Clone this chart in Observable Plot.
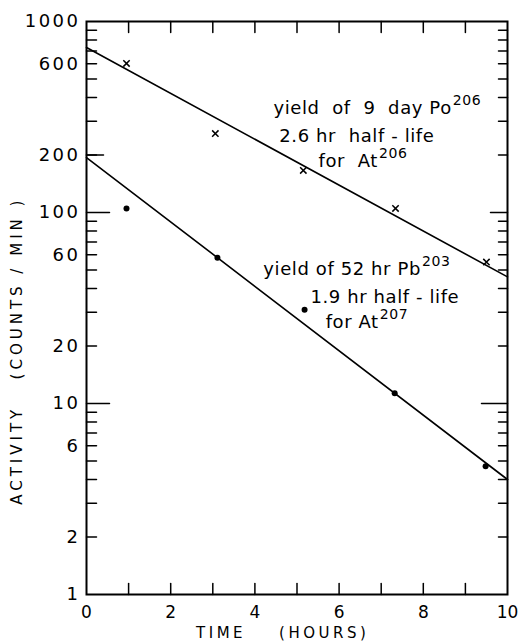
<!DOCTYPE html>
<html><head><meta charset="utf-8">
<script src="https://cdn.jsdelivr.net/npm/d3@7"></script>
<script src="https://cdn.jsdelivr.net/npm/@observablehq/plot@0.6"></script>
<style>
html,body{margin:0;padding:0;background:#fff;}
</style></head><body><div id="chart"></div>
<script>
// Po-206 series (crosses) and fitted decay line
const crossTime = [0.95, 3.06, 5.15, 7.34, 9.50];
const crossActivity = [603, 259, 166, 105, 55];
// Pb-203 series (dots) and fitted decay line
const dotTime = [0.95, 3.11, 5.18, 7.32, 9.48];
const dotActivity = [105, 58, 31, 11.3, 4.7];
const fitTime = [0, 10];
const fitPo = [731, 46];
const fitPb = [194, 4.0];
// axes
const xTickLabels = [0, 2, 4, 6, 8, 10];
const xMinorTicks = [1, 2, 3, 4, 5, 6, 7, 8, 9];
const yTickLabels = [1, 2, 6, 10, 20, 60, 100, 200, 600, 1000];
const yMinorTicks = [2, 3, 4, 5, 6, 7, 8, 9, 20, 30, 40, 50, 60, 70, 80, 90, 200, 300, 400, 500, 600, 700, 800, 900];
const yLongTicks = [10, 100];
const yMidTicks = [200];
const xTitle = "TIME\u00A0\u00A0\u00A0\u00A0(HOURS)";
const yTitle = "ACTIVITY\u00A0\u00A0\u00A0(COUNTS\u00A0/\u00A0MIN\u00A0)";
// annotations
const noteText = ["yield  of  9  day Po^206", "2.6 hr  half - life", "for  At^206",
                  "yield of 52 hr Pb^203", "1.9 hr half - life", "for At^207"];
const noteTime = [4.44, 4.58, 5.51, 4.20, 5.32, 5.68];
const noteActivity = [350, 250, 185, 50.3, 35.9, 26.5];

const fitRows = fitTime.map((t, i) => ({t, po: fitPo[i], pb: fitPb[i]}));
const crossRows = crossTime.map((t, i) => ({t, v: crossActivity[i]}));
const dotRows = dotTime.map((t, i) => ({t, v: dotActivity[i]}));
const noteRows = noteText.map((s, i) => ({s, t: noteTime[i], v: noteActivity[i]}));

const W = 518, H = 642, ML = 86, MR = 11, MT = 21, MB = 48;
const innerW = W - ML - MR, innerH = H - MT - MB;
// convert a pixel tick length into data units along each scale
const xLen = px => px * 10 / innerW;
const yFac = px => 10 ** (px * 3 / innerH);

// inward tick segments, built from the tick arrays (two points per tick)
const tickSegs = [];
const addY = (vals, side, px) => vals.forEach(v => {
  const k = side + px + ":" + v;
  if (side === "L") tickSegs.push({k, t: 0, v}, {k, t: xLen(px), v});
  else tickSegs.push({k, t: 10 - xLen(px), v}, {k, t: 10, v});
});
const addX = (vals, side, px) => vals.forEach(t => {
  const k = side + px + ":" + t;
  if (side === "B") tickSegs.push({k, t, v: 1}, {k, t, v: yFac(px)});
  else tickSegs.push({k, t, v: 1000 / yFac(px)}, {k, t, v: 1000});
});
addX(xMinorTicks, "B", 11);
addX(xMinorTicks, "T", 11);
addY(yMinorTicks, "L", 10);
addY(yLongTicks, "L", 23);
addY(yMidTicks, "L", 17);
addY(yMinorTicks, "R", 9);
addY([yLongTicks[0]], "R", 26);
addY([yLongTicks[1]], "R", 17);

const chart = Plot.plot({
  width: W, height: H,
  marginLeft: ML, marginRight: MR, marginTop: MT, marginBottom: MB,
  style: {fontFamily: "'DejaVu Sans', sans-serif", fontSize: "17px", color: "black"},
  x: {domain: [0, 10], axis: null},
  y: {type: "log", domain: [1, 1000], axis: null},
  marks: [
    Plot.frame({stroke: "black", fill: "none", strokeWidth: 2}),
    // tick labels
    Plot.text(xTickLabels, {x: d => d, y: 1, dy: 18, text: d => String(d), fontSize: 17}),
    Plot.text(yTickLabels, {x: 0, y: d => d, dx: -6, textAnchor: "end", text: d => String(d), fontSize: 18}),
    // titles
    Plot.text([xTitle], {text: d => d, x: 4.66, y: 0.63, fontSize: 15}),
    Plot.text([yTitle], {text: d => d, x: -1.64, y: 18.9, rotate: -90, fontSize: 15}),
    // fitted lines
    Plot.line(fitRows, {x: "t", y: "po", stroke: "black", strokeWidth: 1.6}),
    Plot.line(fitRows, {x: "t", y: "pb", stroke: "black", strokeWidth: 1.6}),
    // inward ticks
    Plot.line(tickSegs, {x: "t", y: "v", z: "k", stroke: "black", strokeWidth: 1.5}),
    // data
    Plot.dot(crossRows, {x: "t", y: "v", symbol: "times", r: 3, stroke: "black", strokeWidth: 1.5}),
    Plot.dot(dotRows, {x: "t", y: "v", r: 3, fill: "black", stroke: "none"}),
    // notes
    Plot.text(noteRows, {x: "t", y: "v", text: "s", textAnchor: "start", lineAnchor: "middle", fontSize: 18})
  ]
});
document.getElementById("chart").appendChild(chart);

try {
  d3.select(chart).selectAll("text").each(function() {
    const el = d3.select(this);
    const s = this.textContent;
    if (s === xTitle) el.style("letter-spacing", "3.5px");
    else if (s === yTitle) el.style("letter-spacing", "4px");
    else if (/^\d+$/.test(s)) {
      if (this.closest("[text-anchor=end]")) el.style("letter-spacing", "2.5px");
    } else if (/[a-z]/.test(s)) {
      el.style("letter-spacing", "0.6px").style("white-space", "pre");
      const k = s.indexOf("^");
      if (k >= 0) {
        this.textContent = s.slice(0, k);
        el.append("tspan").attr("dy", -9).attr("dx", 1).style("font-size", "14px").text(s.slice(k + 1));
      }
    }
  });
} catch (e) { console.error(e); }
</script></body></html>
